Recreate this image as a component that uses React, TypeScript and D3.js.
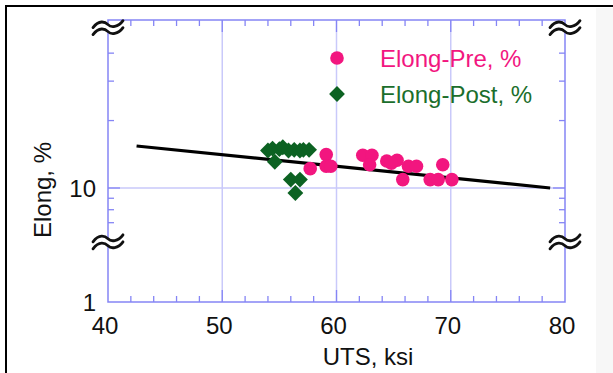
import React from "react";
import * as d3 from "d3";

const preUTS = [57.7, 59.1, 59.1, 59.5, 62.3, 63.1, 62.9, 64.4, 65.3, 64.8, 66.3, 67.0, 65.8, 68.2, 68.9, 69.3, 70.1];
const preElong = [12.2, 14.1, 12.5, 12.5, 14.0, 14.0, 12.7, 13.2, 13.3, 12.9, 12.5, 12.5, 10.9, 10.9, 10.9, 12.7, 10.9];
const postUTS = [54.0, 54.4, 54.6, 55.0, 55.3, 55.8, 56.3, 56.8, 57.1, 57.6, 56.0, 56.8, 56.4];
const postElong = [14.7, 15.0, 13.1, 14.9, 15.2, 14.7, 14.8, 14.7, 14.8, 14.8, 10.9, 10.9, 9.5];
const fitUTS = [42.5, 78.7];
const fitElong = [15.4, 10.0];
const xMajor = [40, 50, 60, 70, 80];
const xMinor = [42, 44, 46, 48, 52, 54, 56, 58, 62, 64, 66, 68, 72, 74, 76, 78];
const yMinor = [7, 8, 9, 20, 30, 40];
const legendLabels = ["Elong-Pre, %", "Elong-Post, %"];

const PINK = "#f2167f";
const GREEN = "#0c6222";
const AXIS = "#8585f5";
const GRID = "#c9c9fa";

export default function App() {
  const L = 108, R = 565, T = 20, B = 302;
  const x = d3.scaleLinear().domain([40, 80]).range([L, R]);
  const y = d3.scaleLog().domain([10, 100]).range([188, -36]);
  const lowBreak = y(5.75);
  const highBreak = y(52);
  const font = "'Liberation Sans', Arial, sans-serif";
  const fs = 24;
  const line = d3.line<[number, number]>().x(d => x(d[0])).y(d => y(d[1]));
  const fitPts: [number, number][] = fitUTS.map((u, i) => [u, fitElong[i]]);
  const diamond = d3.symbol(d3.symbolSquare, 125)()!;

  const breakMark = (cx: number, cy: number, key: string) => {
    const w = 15;
    const wave = (dy: number) =>
      `M${cx - w},${cy + dy + 3} C${cx - w + 6},${cy + dy - 5} ${cx - 3},${cy + dy - 3} ${cx},${cy + dy} S${cx + w - 5},${cy + dy + 3} ${cx + w},${cy + dy - 4}`;
    return (
      <g key={key}>
        <path d={`${wave(-3)} L${cx + w},${cy + 2} C${cx + w - 5},${cy + 6} ${cx + 3},${cy + 2} ${cx},${cy + 3} S${cx - w + 6},${cy - 2} ${cx - w},${cy + 6} Z`} fill="white" stroke="none" />
        <path d={wave(-3)} fill="none" stroke="#111" strokeWidth={2.8} strokeLinecap="round" />
        <path d={wave(4)} fill="none" stroke="#111" strokeWidth={2.8} strokeLinecap="round" />
      </g>
    );
  };

  return (
    <svg width={613} height={373} style={{ position: "absolute", left: 0, top: 0, background: "white" }}>
      <rect x={596} y={8} width={17} height={365} fill="#f7f7f7" />
      <line x1={5} y1={6} x2={613} y2={6} stroke="#000" strokeWidth={2} />
      <line x1={6} y1={5} x2={6} y2={373} stroke="#000" strokeWidth={2} />

      {/* grid */}
      {xMajor.slice(1, -1).map(v => (
        <line key={"gx" + v} x1={x(v)} x2={x(v)} y1={T} y2={B} stroke={GRID} strokeWidth={1.5} />
      ))}
      <line x1={L} x2={R} y1={y(10)} y2={y(10)} stroke={GRID} strokeWidth={1.5} />

      {/* ticks */}
      {xMinor.map(v => (
        <g key={"xm" + v}>
          <line x1={x(v)} x2={x(v)} y1={B} y2={B - 6} stroke={AXIS} strokeWidth={1.3} />
          <line x1={x(v)} x2={x(v)} y1={T} y2={T + 6} stroke={AXIS} strokeWidth={1.3} />
        </g>
      ))}
      {xMajor.slice(1, -1).map(v => (
        <g key={"xM" + v}>
          <line x1={x(v)} x2={x(v)} y1={B} y2={B - 12} stroke={AXIS} strokeWidth={1.3} />
          <line x1={x(v)} x2={x(v)} y1={T} y2={T + 12} stroke={AXIS} strokeWidth={1.3} />
        </g>
      ))}
      {yMinor.map(v => (
        <g key={"ym" + v}>
          <line x1={L} x2={L + 6} y1={y(v)} y2={y(v)} stroke={AXIS} strokeWidth={1.3} />
          <line x1={R} x2={R - 6} y1={y(v)} y2={y(v)} stroke={AXIS} strokeWidth={1.3} />
        </g>
      ))}
      <line x1={L} x2={L + 12} y1={y(10)} y2={y(10)} stroke={AXIS} strokeWidth={1.3} />
      <line x1={R} x2={R - 12} y1={y(10)} y2={y(10)} stroke={AXIS} strokeWidth={1.3} />

      {/* frame */}
      <rect x={L} y={T} width={R - L} height={B - T} fill="none" stroke={AXIS} strokeWidth={1.5} />

      {/* fit line */}
      <path d={line(fitPts)!} fill="none" stroke="#000" strokeWidth={3.2} />

      {/* data */}
      {postUTS.map((u, i) => (
        <path key={"po" + i} d={diamond} transform={`translate(${x(u)},${y(postElong[i])}) rotate(45)`} fill={GREEN} />
      ))}
      {preUTS.map((u, i) => (
        <circle key={"pr" + i} cx={x(u)} cy={y(preElong[i])} r={6.8} fill={PINK} />
      ))}

      {/* breaks */}
      {breakMark(L, highBreak, "b1")}
      {breakMark(L, lowBreak, "b2")}
      {breakMark(R, highBreak, "b3")}
      {breakMark(R, lowBreak, "b4")}

      {/* tick labels */}
      {xMajor.map(v => (
        <text key={"xl" + v} x={x(v) - 3} y={334} textAnchor="middle" fontFamily={font} fontSize={fs} fill="#111">{v}</text>
      ))}
      <text x={96} y={188 + 9} textAnchor="end" fontFamily={font} fontSize={fs} fill="#111">10</text>
      <text x={96} y={B + 9} textAnchor="end" fontFamily={font} fontSize={fs} fill="#111">1</text>

      {/* axis titles */}
      <text x={368} y={365} textAnchor="middle" fontFamily={font} fontSize={fs} fill="#111">UTS, ksi</text>
      <text transform="translate(51,190) rotate(-90)" textAnchor="middle" fontFamily={font} fontSize={fs} fill="#111">Elong, %</text>

      {/* legend */}
      <circle cx={337} cy={58} r={6.8} fill={PINK} />
      <text x={380} y={67} fontFamily={font} fontSize={fs} fill={PINK}>{legendLabels[0]}</text>
      <path d={diamond} transform="translate(337,94) rotate(45)" fill={GREEN} />
      <text x={380} y={103} fontFamily={font} fontSize={fs} fill="#1b6e2c">{legendLabels[1]}</text>
    </svg>
  );
}
